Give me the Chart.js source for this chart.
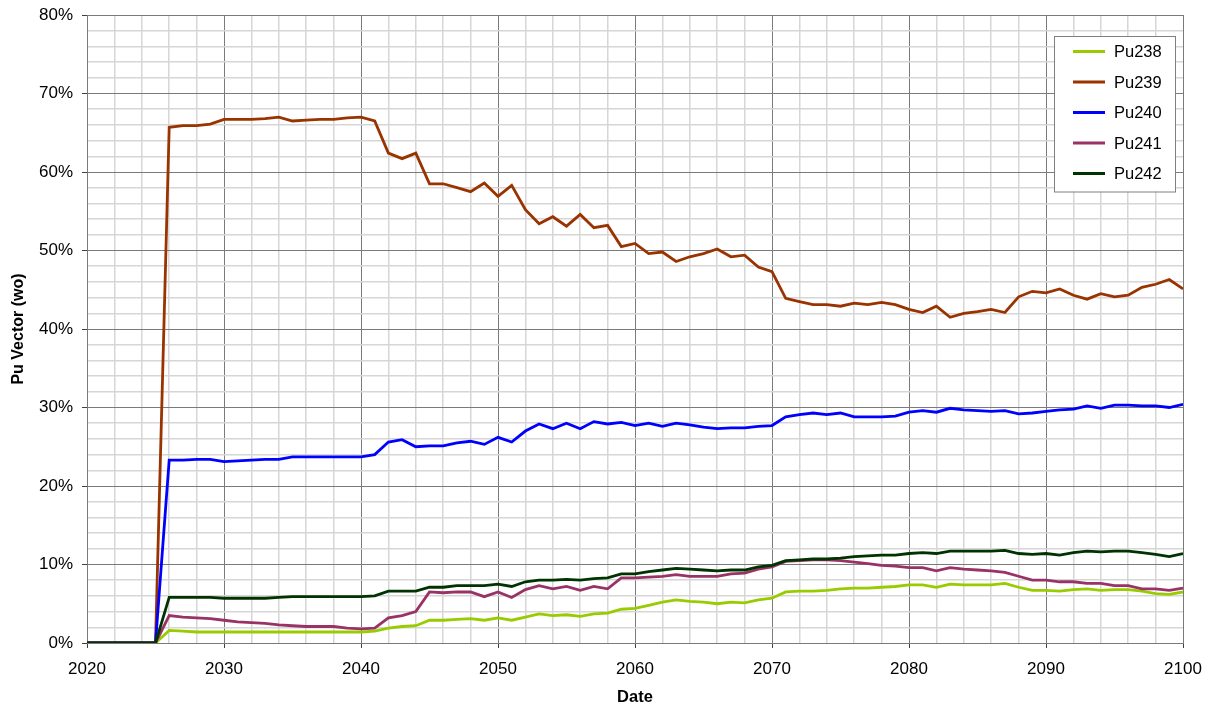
<!DOCTYPE html>
<html lang="en">
<head>
  <meta charset="UTF-8">
  <title>Pu Vector</title>
  <script src="https://cdn.jsdelivr.net/npm/chart.js"></script>
  <style>
    html, body { margin: 0; padding: 0; background: #fff; }
    #wrap { width: 1209px; height: 707px; }
  </style>
</head>
<body>
  <div id="wrap"><canvas id="pu-chart" width="1209" height="707"></canvas></div>

  <script>
    // years 2020..2100, one value per year (wt %)
    const years = [];
    for (let y = 2020; y <= 2100; y++) years.push(y);

    const pu238 = [0, 0, 0, 0, 0, 0,
      1.6, 1.5, 1.4, 1.4, 1.4, 1.4, 1.4, 1.4, 1.4, 1.4, 1.4, 1.4, 1.4, 1.4, 1.4,
      1.5, 1.9, 2.1, 2.2, 2.9, 2.9, 3.0, 3.1, 2.9, 3.2,
      2.9, 3.3, 3.7, 3.5, 3.6, 3.4, 3.7, 3.8, 4.3, 4.4,
      4.8, 5.2, 5.5, 5.3, 5.2, 5.0, 5.2, 5.1, 5.5, 5.7,
      6.5, 6.6, 6.6, 6.7, 6.9, 7.0, 7.0, 7.1, 7.2, 7.4,
      7.4, 7.1, 7.5, 7.4, 7.4, 7.4, 7.6, 7.1, 6.7, 6.7,
      6.6, 6.8, 6.9, 6.7, 6.8, 6.8, 6.6, 6.3, 6.2, 6.5];

    const pu239 = [0, 0, 0, 0, 0, 0,
      65.7, 65.9, 65.9, 66.1, 66.7,
      66.7, 66.7, 66.8, 67.0, 66.5, 66.6, 66.7, 66.7, 66.9, 67.0,
      66.5, 62.4, 61.7, 62.4, 58.5, 58.5, 58.0, 57.5, 58.6, 56.9,
      58.3, 55.2, 53.4, 54.3, 53.1, 54.6, 52.9, 53.2, 50.5, 50.9,
      49.6, 49.8, 48.6, 49.2, 49.6, 50.2, 49.2, 49.4, 47.9, 47.3,
      43.9, 43.5, 43.1, 43.1, 42.9, 43.3, 43.1, 43.4, 43.1, 42.5,
      42.1, 42.9, 41.5, 42.0, 42.2, 42.5, 42.1, 44.1, 44.8, 44.6,
      45.1, 44.3, 43.8, 44.5, 44.1, 44.3, 45.3, 45.7, 46.3, 45.1];

    const pu240 = [0, 0, 0, 0, 0, 0,
      23.3, 23.3, 23.4, 23.4, 23.1,
      23.2, 23.3, 23.4, 23.4, 23.7, 23.7, 23.7, 23.7, 23.7, 23.7,
      24.0, 25.6, 25.9, 25.0, 25.1, 25.1, 25.5, 25.7, 25.3, 26.2,
      25.6, 27.0, 27.9, 27.3, 28.0, 27.3, 28.2, 27.9, 28.1, 27.7,
      28.0, 27.6, 28.0, 27.8, 27.5, 27.3, 27.4, 27.4, 27.6, 27.7,
      28.8, 29.1, 29.3, 29.1, 29.3, 28.8, 28.8, 28.8, 28.9, 29.4,
      29.6, 29.4, 29.9, 29.7, 29.6, 29.5, 29.6, 29.2, 29.3, 29.5,
      29.7, 29.8, 30.2, 29.9, 30.3, 30.3, 30.2, 30.2, 30.0, 30.4];

    const pu241 = [0, 0, 0, 0, 0, 0,
      3.5, 3.3, 3.2, 3.1, 2.9,
      2.7, 2.6, 2.5, 2.3, 2.2, 2.1, 2.1, 2.1, 1.9, 1.8,
      1.9, 3.2, 3.5, 4.0, 6.5, 6.4, 6.5, 6.5, 5.9, 6.5,
      5.8, 6.8, 7.3, 6.9, 7.2, 6.7, 7.2, 6.9, 8.3, 8.3,
      8.4, 8.5, 8.7, 8.5, 8.5, 8.5, 8.8, 8.9, 9.4, 9.7,
      10.4, 10.5, 10.6, 10.6, 10.5, 10.3, 10.1, 9.9, 9.8, 9.6,
      9.6, 9.2, 9.6, 9.4, 9.3, 9.2, 9.0, 8.5, 8.0, 8.0,
      7.8, 7.8, 7.6, 7.6, 7.3, 7.3, 6.9, 6.9, 6.7, 7.0];

    const pu242 = [0, 0, 0, 0, 0, 0,
      5.8, 5.8, 5.8, 5.8, 5.7,
      5.7, 5.7, 5.7, 5.8, 5.9, 5.9, 5.9, 5.9, 5.9, 5.9,
      6.0, 6.6, 6.6, 6.6, 7.1, 7.1, 7.3, 7.3, 7.3, 7.5,
      7.2, 7.8, 8.0, 8.0, 8.1, 8.0, 8.2, 8.3, 8.8, 8.8,
      9.1, 9.3, 9.5, 9.4, 9.3, 9.2, 9.3, 9.3, 9.7, 9.9,
      10.5, 10.6, 10.7, 10.7, 10.8, 11.0, 11.1, 11.2, 11.2, 11.4,
      11.5, 11.4, 11.7, 11.7, 11.7, 11.7, 11.8, 11.4, 11.3, 11.4,
      11.2, 11.5, 11.7, 11.6, 11.7, 11.7, 11.5, 11.3, 11.0, 11.4];

    const seriesNames = ['Pu238', 'Pu239', 'Pu240', 'Pu241', 'Pu242'];
    const seriesData = [pu238, pu239, pu240, pu241, pu242];
    const seriesColors = ['#99cc00', '#993300', '#0000ff', '#993366', '#003300'];

    const FONT = "'Liberation Sans', Arial, sans-serif";
    const MAJOR = '#7a7a7a';
    const MINOR = '#d6d6d6';

    const isMajor = v => Math.round(v) % 10 === 0;

    // legend box drawn inside the plot, top right
    const boxLegend = {
      id: 'boxLegend',
      afterDraw(chart) {
        const { ctx, chartArea } = chart;
        const w = 121, rowH = 30.5;
        const x0 = chartArea.right - 8 - w;
        const y0 = chartArea.top + 21;
        const h = rowH * chart.data.datasets.length + 3;
        ctx.save();
        ctx.fillStyle = '#fff';
        ctx.fillRect(x0, y0, w, h);
        ctx.strokeStyle = '#808080';
        ctx.lineWidth = 1;
        ctx.strokeRect(x0 + 0.5, y0 + 0.5, w, h);
        ctx.font = '16.5px ' + FONT;
        ctx.textBaseline = 'middle';
        chart.data.datasets.forEach((ds, i) => {
          const cy = y0 + 15.5 + i * rowH;
          ctx.strokeStyle = ds.borderColor;
          ctx.lineWidth = 3;
          ctx.beginPath();
          ctx.moveTo(x0 + 19, cy);
          ctx.lineTo(x0 + 51, cy);
          ctx.stroke();
          ctx.fillStyle = '#000';
          ctx.fillText(ds.label, x0 + 60, cy + 1);
        });
        ctx.restore();
      }
    };

    const ctx = document.getElementById('pu-chart').getContext('2d');
    new Chart(ctx, {
      type: 'line',
      data: {
        datasets: seriesNames.map((name, i) => ({
          label: name,
          data: years.map((yr, j) => ({ x: yr, y: seriesData[i][j] })),
          borderColor: seriesColors[i],
          backgroundColor: seriesColors[i],
          borderWidth: 2.8,
          pointRadius: 0,
          tension: 0,
          fill: false,
          order: seriesNames.length - i
        }))
      },
      options: {
        responsive: false,
        animation: false,
        layout: { padding: { top: 15, right: 26, bottom: 0, left: 0 } },
        plugins: {
          legend: { display: false },
          tooltip: { enabled: false }
        },
        scales: {
          x: {
            type: 'linear',
            min: 2020,
            max: 2100,
            afterFit: s => { s.height = 64; s.paddingLeft = 0; s.paddingRight = 0; },
            border: { color: MAJOR, width: 1 },
            grid: {
              color: c => isMajor(c.tick.value) ? MAJOR : MINOR,
              lineWidth: c => isMajor(c.tick.value) ? 1 : 1.5,
              tickColor: c => isMajor(c.tick.value) ? '#404040' : 'rgba(0,0,0,0)',
              tickLength: 5
            },
            ticks: {
              stepSize: 2,
              autoSkip: false,
              maxRotation: 0,
              padding: 11,
              color: '#000',
              font: { family: FONT, size: 17 },
              callback: v => isMajor(v) ? String(v) : ''
            },
            title: {
              display: true,
              text: 'Date',
              color: '#000',
              padding: { top: 0, bottom: 0 },
              font: { family: FONT, size: 16.5, weight: 'bold' }
            }
          },
          y: {
            min: 0,
            max: 80,
            afterFit: s => { s.width = 87; s.paddingTop = 0; s.paddingBottom = 0; },
            border: { color: MAJOR, width: 1 },
            grid: {
              color: c => isMajor(c.tick.value) ? MAJOR : MINOR,
              lineWidth: c => isMajor(c.tick.value) ? 1 : 1.5,
              tickColor: c => isMajor(c.tick.value) ? '#404040' : 'rgba(0,0,0,0)',
              tickLength: 5
            },
            ticks: {
              stepSize: 2,
              autoSkip: false,
              padding: 9,
              color: '#000',
              font: { family: FONT, size: 17 },
              callback: v => isMajor(v) ? v + '%' : ''
            },
            title: {
              display: true,
              text: 'Pu Vector (wo)',
              color: '#000',
              padding: { top: 9, bottom: 0 },
              font: { family: FONT, size: 16, weight: 'bold' }
            }
          }
        }
      },
      plugins: [boxLegend]
    });
  </script>
</body>
</html>
